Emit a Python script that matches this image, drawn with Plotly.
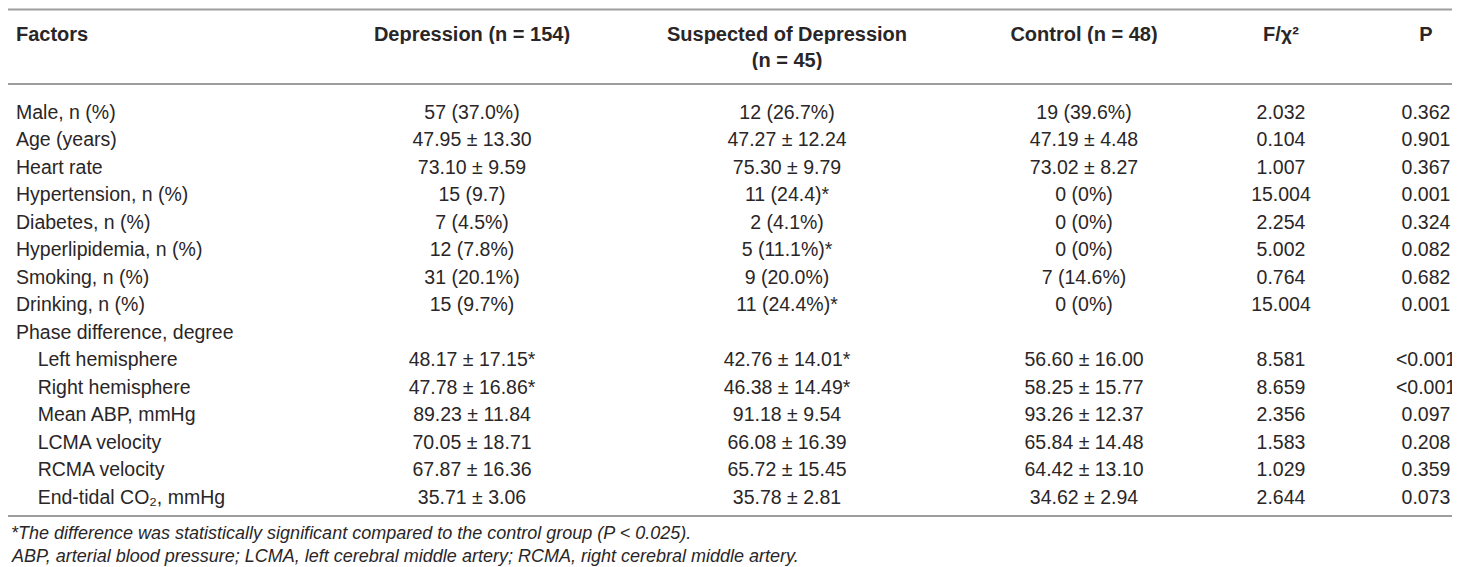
import numpy as np
import plotly.graph_objects as go

# Table content
header_top = ['Factors', 'Depression (n = 154)', 'Suspected of Depression', 'Control (n = 48)',
              'F/χ²', 'P']
header_second = ['', '', '(n = 45)', '', '', '']

factors = ['Male, n (%)', 'Age (years)', 'Heart rate', 'Hypertension, n (%)', 'Diabetes, n (%)',
           'Hyperlipidemia, n (%)', 'Smoking, n (%)', 'Drinking, n (%)', 'Phase difference, degree',
           '    Left hemisphere', '    Right hemisphere', '    Mean ABP, mmHg', '    LCMA velocity',
           '    RCMA velocity', '    End-tidal CO₂, mmHg']

depression = ['57 (37.0%)', '47.95 ± 13.30', '73.10 ± 9.59', '15 (9.7)', '7 (4.5%)', '12 (7.8%)',
              '31 (20.1%)', '15 (9.7%)', '', '48.17 ± 17.15*', '47.78 ± 16.86*', '89.23 ± 11.84',
              '70.05 ± 18.71', '67.87 ± 16.36', '35.71 ± 3.06']

suspected = ['12 (26.7%)', '47.27 ± 12.24', '75.30 ± 9.79', '11 (24.4)*', '2 (4.1%)', '5 (11.1%)*',
             '9 (20.0%)', '11 (24.4%)*', '', '42.76 ± 14.01*', '46.38 ± 14.49*', '91.18 ± 9.54',
             '66.08 ± 16.39', '65.72 ± 15.45', '35.78 ± 2.81']

control = ['19 (39.6%)', '47.19 ± 4.48', '73.02 ± 8.27', '0 (0%)', '0 (0%)', '0 (0%)',
           '7 (14.6%)', '0 (0%)', '', '56.60 ± 16.00', '58.25 ± 15.77', '93.26 ± 12.37',
           '65.84 ± 14.48', '64.42 ± 13.10', '34.62 ± 2.94']

f_stat = ['2.032', '0.104', '1.007', '15.004', '2.254', '5.002', '0.764', '15.004', '',
          '8.581', '8.659', '2.356', '1.583', '1.029', '2.644']

p_val = ['0.362', '0.901', '0.367', '0.001', '0.324', '0.082', '0.682', '0.001', '',
         '<0.001', '<0.001', '0.097', '0.208', '0.359', '0.073']

footnotes = ['*The difference was statistically significant compared to the control group (P < 0.025).',
             'ABP, arterial blood pressure; LCMA, left cerebral middle artery; RCMA, right cerebral middle artery.']

W, H = 1460, 567
TXT = '#2a2627'
RULE = '#9d9d9d'
FONT = 'Liberation Sans'

# keep the indent from collapsing
factors = [f.replace('    ', '\u00a0' * 4) for f in factors]
# "<" goes in as a prefix so plotly doesn't treat the cell as markup (and grow the row)
p_prefix = ['<' if p.startswith('<') else '' for p in p_val]
p_shown = [p.lstrip('<') for p in p_val]
n_rows = len(factors)
prefix = np.array([[''] * n_rows] * 5 + [p_prefix], dtype='<U1')

cell_vals = [factors, depression, suspected, control, f_stat, p_shown]
head_vals = [[a, b, ''] for a, b in zip(header_top, header_second)]
aligns = ['left', 'center', 'center', 'center', 'center', 'center']

fig = go.Figure(go.Table(
    columnwidth=[352, 224, 406, 188, 206, 84],
    header=dict(values=head_vals, align=aligns,
                font=dict(family=FONT, size=20, color=TXT, weight='bold'),
                fill_color='white', line=dict(color='white', width=0), height=26),
    cells=dict(values=cell_vals, align=aligns, prefix=prefix,
               font=dict(family=FONT, size=19.5, color=TXT),
               fill_color='white', line=dict(color='white', width=0), height=27.5),
    domain=dict(x=[0, 1], y=[0, 1 - 10 / H]),
))

# horizontal rules
for ypx in [1.5, 76, 508]:
    fig.add_shape(type='line', xref='paper', yref='paper', x0=0, x1=1,
                  y0=1 - ypx / H, y1=1 - ypx / H, line=dict(color=RULE, width=2))

# footnotes
for txt, ypx in zip(footnotes, [525, 548]):
    fig.add_annotation(text='<i>%s</i>' % txt, xref='paper', yref='paper', x=0.001, y=1 - ypx / H,
                       xanchor='left', yanchor='middle', showarrow=False,
                       font=dict(family=FONT, size=18, color=TXT))

fig.update_layout(width=W, height=H, margin=dict(l=0, r=0, t=0, b=0),
                  paper_bgcolor='white', plot_bgcolor='white')
fig.write_html('out.html')
